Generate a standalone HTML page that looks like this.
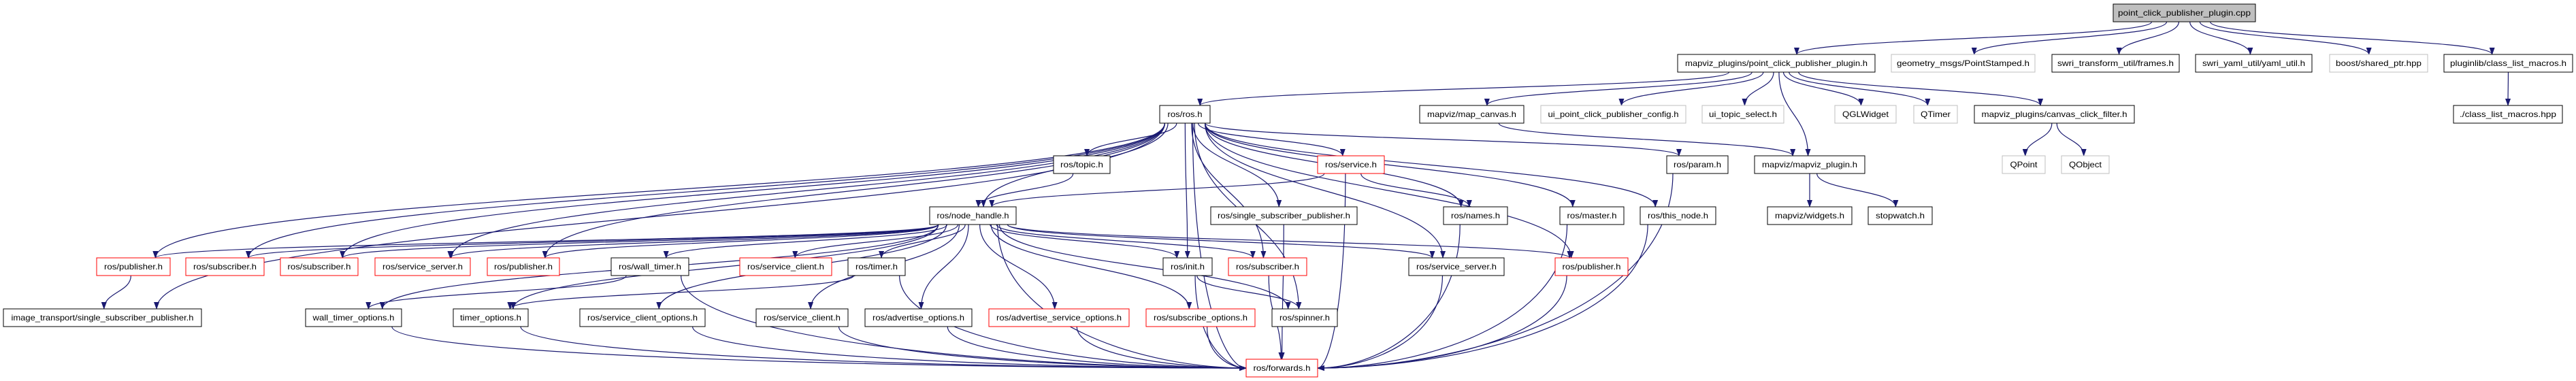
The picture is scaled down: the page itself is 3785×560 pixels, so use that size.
<!DOCTYPE html>
<html><head><meta charset="utf-8"><style>
html,body{margin:0;padding:0;background:#fff;width:3785px;height:560px;overflow:hidden}
svg text{font-family:"Liberation Sans",sans-serif;font-size:12px;fill:#000}
</style></head><body>
<svg id="g" width="3785" height="560" viewBox="0 0 3785 560" xmlns="http://www.w3.org/2000/svg">
<defs><marker id="a" markerUnits="userSpaceOnUse" markerWidth="11" markerHeight="8" refX="10" refY="4" orient="auto"><path d="M0,0 L11,4 L0,8 z" fill="#191970"/></marker></defs>
<g id="edges" fill="none" stroke="#191970" stroke-width="1.2"></g>
<g id="nodes">
<rect id="cpp" x="3105" y="6" width="209" height="26" fill="#bfbfbf" stroke="#000"/><text x="3209.5" y="23" text-anchor="middle" textLength="195" lengthAdjust="spacingAndGlyphs">point_click_publisher_plugin.cpp</text>
<rect id="pcph" x="2465" y="80" width="290" height="26" fill="#fff" stroke="#000"/><text x="2610" y="97" text-anchor="middle" textLength="268" lengthAdjust="spacingAndGlyphs">mapviz_plugins/point_click_publisher_plugin.h</text>
<rect id="gm" x="2779" y="80" width="211" height="26" fill="#fff" stroke="#bfbfbf"/><text x="2884.5" y="97" text-anchor="middle" textLength="195" lengthAdjust="spacingAndGlyphs">geometry_msgs/PointStamped.h</text>
<rect id="tf" x="3015" y="80" width="187" height="26" fill="#fff" stroke="#000"/><text x="3108.5" y="97" text-anchor="middle" textLength="171" lengthAdjust="spacingAndGlyphs">swri_transform_util/frames.h</text>
<rect id="yaml" x="3226" y="80" width="171" height="26" fill="#fff" stroke="#000"/><text x="3311.5" y="97" text-anchor="middle" textLength="151" lengthAdjust="spacingAndGlyphs">swri_yaml_util/yaml_util.h</text>
<rect id="boost" x="3423" y="80" width="144" height="26" fill="#fff" stroke="#bfbfbf"/><text x="3495" y="97" text-anchor="middle" textLength="126" lengthAdjust="spacingAndGlyphs">boost/shared_ptr.hpp</text>
<rect id="plib" x="3591" y="80" width="189" height="26" fill="#fff" stroke="#000"/><text x="3685.5" y="97" text-anchor="middle" textLength="171" lengthAdjust="spacingAndGlyphs">pluginlib/class_list_macros.h</text>
<rect id="clm" x="3605" y="155" width="160" height="26" fill="#fff" stroke="#000"/><text x="3685" y="172" text-anchor="middle" textLength="142" lengthAdjust="spacingAndGlyphs">./class_list_macros.hpp</text>
<rect id="ccf" x="2901" y="155" width="235" height="26" fill="#fff" stroke="#000"/><text x="3018.5" y="172" text-anchor="middle" textLength="214" lengthAdjust="spacingAndGlyphs">mapviz_plugins/canvas_click_filter.h</text>
<rect id="qtimer" x="2812" y="155" width="64" height="26" fill="#fff" stroke="#bfbfbf"/><text x="2844" y="172" text-anchor="middle" textLength="44" lengthAdjust="spacingAndGlyphs">QTimer</text>
<rect id="qpoint" x="2942" y="229" width="63" height="26" fill="#fff" stroke="#bfbfbf"/><text x="2973.5" y="246" text-anchor="middle" textLength="40" lengthAdjust="spacingAndGlyphs">QPoint</text>
<rect id="qobject" x="3029" y="229" width="70" height="26" fill="#fff" stroke="#bfbfbf"/><text x="3064" y="246" text-anchor="middle" textLength="48" lengthAdjust="spacingAndGlyphs">QObject</text>
<rect id="mc" x="2086" y="155" width="153" height="26" fill="#fff" stroke="#000"/><text x="2162.5" y="172" text-anchor="middle" textLength="131" lengthAdjust="spacingAndGlyphs">mapviz/map_canvas.h</text>
<rect id="uipc" x="2264" y="155" width="213" height="26" fill="#fff" stroke="#bfbfbf"/><text x="2370.5" y="172" text-anchor="middle" textLength="192" lengthAdjust="spacingAndGlyphs">ui_point_click_publisher_config.h</text>
<rect id="uits" x="2501" y="155" width="120" height="26" fill="#fff" stroke="#bfbfbf"/><text x="2561" y="172" text-anchor="middle" textLength="100" lengthAdjust="spacingAndGlyphs">ui_topic_select.h</text>
<rect id="qgl" x="2696" y="155" width="90" height="26" fill="#fff" stroke="#bfbfbf"/><text x="2741" y="172" text-anchor="middle" textLength="68" lengthAdjust="spacingAndGlyphs">QGLWidget</text>
<rect id="service" x="1936" y="229" width="98" height="26" fill="#fff" stroke="#ff0000"/><text x="1985" y="246" text-anchor="middle" textLength="76" lengthAdjust="spacingAndGlyphs">ros/service.h</text>
<rect id="param" x="2449" y="229" width="90" height="26" fill="#fff" stroke="#000"/><text x="2494" y="246" text-anchor="middle" textLength="70" lengthAdjust="spacingAndGlyphs">ros/param.h</text>
<rect id="mvp" x="2578" y="229" width="162" height="26" fill="#fff" stroke="#000"/><text x="2659" y="246" text-anchor="middle" textLength="140" lengthAdjust="spacingAndGlyphs">mapviz/mapviz_plugin.h</text>
<rect id="ros" x="1704" y="155" width="74" height="26" fill="#fff" stroke="#000"/><text x="1741" y="172" text-anchor="middle" textLength="51" lengthAdjust="spacingAndGlyphs">ros/ros.h</text>
<rect id="topic" x="1548" y="229" width="83" height="26" fill="#fff" stroke="#000"/><text x="1589.5" y="246" text-anchor="middle" textLength="63" lengthAdjust="spacingAndGlyphs">ros/topic.h</text>
<rect id="ssp" x="1779" y="304" width="215" height="26" fill="#fff" stroke="#000"/><text x="1886.5" y="321" text-anchor="middle" textLength="195" lengthAdjust="spacingAndGlyphs">ros/single_subscriber_publisher.h</text>
<rect id="names" x="2121" y="304" width="94" height="26" fill="#fff" stroke="#000"/><text x="2168" y="321" text-anchor="middle" textLength="72" lengthAdjust="spacingAndGlyphs">ros/names.h</text>
<rect id="master" x="2292" y="304" width="94" height="26" fill="#fff" stroke="#000"/><text x="2339" y="321" text-anchor="middle" textLength="73" lengthAdjust="spacingAndGlyphs">ros/master.h</text>
<rect id="thisnode" x="2410" y="304" width="111" height="26" fill="#fff" stroke="#000"/><text x="2465.5" y="321" text-anchor="middle" textLength="89" lengthAdjust="spacingAndGlyphs">ros/this_node.h</text>
<rect id="widgets" x="2597" y="304" width="124" height="26" fill="#fff" stroke="#000"/><text x="2659" y="321" text-anchor="middle" textLength="102" lengthAdjust="spacingAndGlyphs">mapviz/widgets.h</text>
<rect id="stopwatch" x="2745" y="304" width="94" height="26" fill="#fff" stroke="#000"/><text x="2792" y="321" text-anchor="middle" textLength="72" lengthAdjust="spacingAndGlyphs">stopwatch.h</text>
<rect id="nh" x="1366" y="304" width="127" height="26" fill="#fff" stroke="#000"/><text x="1429.5" y="321" text-anchor="middle" textLength="106" lengthAdjust="spacingAndGlyphs">ros/node_handle.h</text>
<rect id="pubL1" x="142" y="379" width="108" height="26" fill="#fff" stroke="#ff0000"/><text x="196" y="396" text-anchor="middle" textLength="86" lengthAdjust="spacingAndGlyphs">ros/publisher.h</text>
<rect id="subL1" x="273" y="379" width="115" height="26" fill="#fff" stroke="#ff0000"/><text x="330.5" y="396" text-anchor="middle" textLength="93" lengthAdjust="spacingAndGlyphs">ros/subscriber.h</text>
<rect id="subL2" x="412" y="379" width="114" height="26" fill="#fff" stroke="#ff0000"/><text x="469" y="396" text-anchor="middle" textLength="93" lengthAdjust="spacingAndGlyphs">ros/subscriber.h</text>
<rect id="ssL" x="551" y="379" width="140" height="26" fill="#fff" stroke="#ff0000"/><text x="621" y="396" text-anchor="middle" textLength="118" lengthAdjust="spacingAndGlyphs">ros/service_server.h</text>
<rect id="pubL2" x="716" y="379" width="106" height="26" fill="#fff" stroke="#ff0000"/><text x="769" y="396" text-anchor="middle" textLength="86" lengthAdjust="spacingAndGlyphs">ros/publisher.h</text>
<rect id="wt" x="898" y="379" width="114" height="26" fill="#fff" stroke="#000"/><text x="955" y="396" text-anchor="middle" textLength="92" lengthAdjust="spacingAndGlyphs">ros/wall_timer.h</text>
<rect id="sc1" x="1087" y="379" width="135" height="26" fill="#fff" stroke="#ff0000"/><text x="1154.5" y="396" text-anchor="middle" textLength="113" lengthAdjust="spacingAndGlyphs">ros/service_client.h</text>
<rect id="timer" x="1246" y="379" width="84" height="26" fill="#fff" stroke="#000"/><text x="1288" y="396" text-anchor="middle" textLength="62" lengthAdjust="spacingAndGlyphs">ros/timer.h</text>
<rect id="init" x="1709" y="379" width="72" height="26" fill="#fff" stroke="#000"/><text x="1745" y="396" text-anchor="middle" textLength="50" lengthAdjust="spacingAndGlyphs">ros/init.h</text>
<rect id="sub2" x="1805" y="379" width="115" height="26" fill="#fff" stroke="#ff0000"/><text x="1862.5" y="396" text-anchor="middle" textLength="93" lengthAdjust="spacingAndGlyphs">ros/subscriber.h</text>
<rect id="ss2" x="2070" y="379" width="140" height="26" fill="#fff" stroke="#000"/><text x="2140" y="396" text-anchor="middle" textLength="118" lengthAdjust="spacingAndGlyphs">ros/service_server.h</text>
<rect id="pub2" x="2285" y="379" width="107" height="26" fill="#fff" stroke="#ff0000"/><text x="2338.5" y="396" text-anchor="middle" textLength="86" lengthAdjust="spacingAndGlyphs">ros/publisher.h</text>
<rect id="it" x="5" y="454" width="291" height="26" fill="#fff" stroke="#000"/><text x="150.5" y="471" text-anchor="middle" textLength="268" lengthAdjust="spacingAndGlyphs">image_transport/single_subscriber_publisher.h</text>
<rect id="wto" x="449" y="454" width="141" height="26" fill="#fff" stroke="#000"/><text x="519.5" y="471" text-anchor="middle" textLength="120" lengthAdjust="spacingAndGlyphs">wall_timer_options.h</text>
<rect id="to" x="666" y="454" width="110" height="26" fill="#fff" stroke="#000"/><text x="721" y="471" text-anchor="middle" textLength="90" lengthAdjust="spacingAndGlyphs">timer_options.h</text>
<rect id="sco" x="852" y="454" width="184" height="26" fill="#fff" stroke="#000"/><text x="944" y="471" text-anchor="middle" textLength="162" lengthAdjust="spacingAndGlyphs">ros/service_client_options.h</text>
<rect id="sc2" x="1111" y="454" width="135" height="26" fill="#fff" stroke="#000"/><text x="1178.5" y="471" text-anchor="middle" textLength="113" lengthAdjust="spacingAndGlyphs">ros/service_client.h</text>
<rect id="ao" x="1271" y="454" width="157" height="26" fill="#fff" stroke="#000"/><text x="1349.5" y="471" text-anchor="middle" textLength="135" lengthAdjust="spacingAndGlyphs">ros/advertise_options.h</text>
<rect id="aso" x="1453" y="454" width="206" height="26" fill="#fff" stroke="#ff0000"/><text x="1556" y="471" text-anchor="middle" textLength="184" lengthAdjust="spacingAndGlyphs">ros/advertise_service_options.h</text>
<rect id="so" x="1684" y="454" width="160" height="26" fill="#fff" stroke="#ff0000"/><text x="1764" y="471" text-anchor="middle" textLength="138" lengthAdjust="spacingAndGlyphs">ros/subscribe_options.h</text>
<rect id="spinner" x="1869" y="454" width="96" height="26" fill="#fff" stroke="#000"/><text x="1917" y="471" text-anchor="middle" textLength="74" lengthAdjust="spacingAndGlyphs">ros/spinner.h</text>
<rect id="fwd" x="1831" y="528" width="105" height="26" fill="#fff" stroke="#ff0000"/><text x="1883.5" y="545" text-anchor="middle" textLength="84" lengthAdjust="spacingAndGlyphs">ros/forwards.h</text>
</g>
</svg>
<script>
var E=[["cpp","pcph"],["cpp","gm"],["cpp","tf"],["cpp","yaml"],["cpp","boost"],["cpp","plib"],["plib","clm"],
["pcph","ros"],["pcph","mc"],["pcph","uipc"],["pcph","uits"],["pcph","mvp"],["pcph","qgl"],["pcph","qtimer"],["pcph","ccf"],
["ccf","qpoint"],["ccf","qobject"],["mc","mvp"],["mvp","widgets"],["mvp","stopwatch"],
["ros","topic"],["ros","nh"],["ros","service"],["ros","param"],["ros","names"],["ros","master"],["ros","thisnode"],["ros","ssp"],["ros","init"],["ros","sub2"],["ros","pub2"],["ros","ss2"],["ros","fwd"],["ros","spinner"],
["ros","pubL1"],["ros","subL1"],["ros","subL2"],["ros","ssL"],["ros","pubL2"],["ros","it"],
["topic","nh"],["service","nh"],["service","names"],["service","fwd"],
["nh","pubL1"],["nh","subL1"],["nh","subL2"],["nh","ssL"],["nh","pubL2"],["nh","wt"],["nh","sc1"],["nh","timer"],["nh","sco"],["nh","sc2"],["nh","ao"],["nh","aso"],["nh","so"],["nh","init"],["nh","spinner"],["nh","sub2"],["nh","ss2"],["nh","pub2"],["nh","fwd"],["nh","wto"],["nh","to"],
["wt","wto"],["wt","fwd"],["timer","to"],["timer","fwd"],["pubL1","it"],
["wto","fwd"],["to","fwd"],["sco","fwd"],["sc2","fwd"],["ao","fwd"],["aso","fwd"],["so","fwd"],["init","fwd"],["init","spinner"],["sub2","fwd"],["ssp","fwd"],["ss2","fwd"],["names","fwd"],["pub2","fwd"],["master","fwd"],["thisnode","fwd"],["param","fwd"]];
function R(id){var r=document.getElementById(id);return{x:+r.getAttribute("x"),y:+r.getAttribute("y"),w:+r.getAttribute("width"),h:+r.getAttribute("height")};}
var g=document.getElementById("edges"),ns="http://www.w3.org/2000/svg";
E.forEach(function(e){var s=R(e[0]),t=R(e[1]);var scx=s.x+s.w/2,tcx=t.x+t.w/2;
var off=Math.max(-s.w*0.4,Math.min(s.w*0.4,(tcx-scx)*0.08));var sx=scx+off,sy=s.y+s.h;var d;
if(e[1]=="fwd"&&(scx<t.x||scx>t.x+t.w)){var left=scx<t.x;var tx=left?t.x:t.x+t.w,ty=t.y+t.h/2;var dx=tx-sx;
d="M"+sx+","+sy+" C"+sx+","+(sy+(ty-sy)*0.7)+" "+(tx-dx*0.4)+","+ty+" "+tx+","+ty;}
else{var tx=tcx+Math.max(-t.w*0.3,Math.min(t.w*0.3,(scx-tcx)*0.05)),ty=t.y;var dy=ty-sy;
d="M"+sx+","+sy+" C"+sx+","+(sy+dy*0.5)+" "+tx+","+(ty-dy*0.5)+" "+tx+","+ty;}
var p=document.createElementNS(ns,"path");p.setAttribute("d",d);p.setAttribute("marker-end","url(#a)");g.appendChild(p);});
</script>
</body></html>
